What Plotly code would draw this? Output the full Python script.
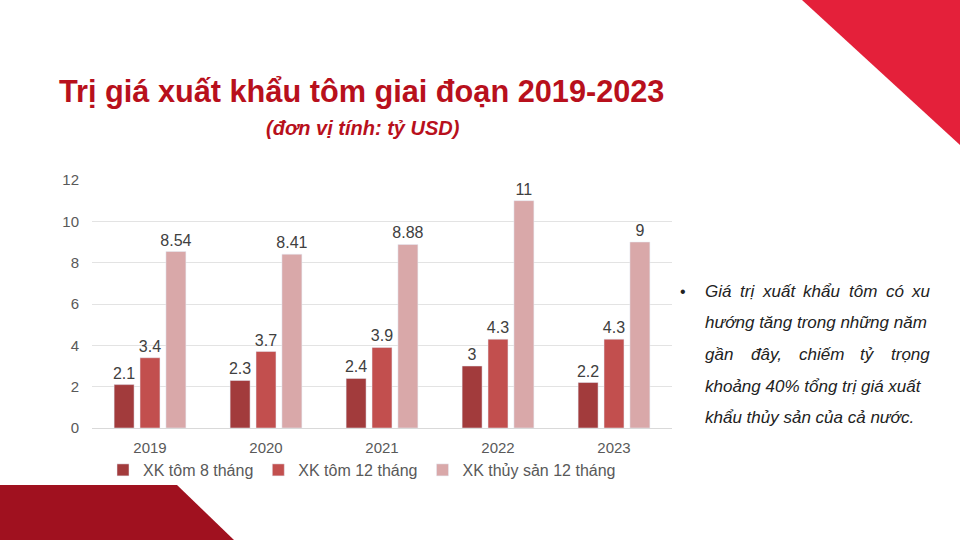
import plotly.graph_objects as go

years = ["2019", "2020", "2021", "2022", "2023"]
series_names = ["XK tôm 8 tháng", "XK tôm 12 tháng", "XK thủy sản 12 tháng"]
tom_8_thang = [2.1, 2.3, 2.4, 3, 2.2]
tom_12_thang = [3.4, 3.7, 3.9, 4.3, 4.3]
thuy_san_12_thang = [8.54, 8.41, 8.88, 11, 9]
y_ticks = [0, 2, 4, 6, 8, 10, 12]

title_text = "Trị giá xuất khẩu tôm giai đoạn 2019-2023"
subtitle_text = "(đơn vị tính: tỷ USD)"
note_lines = [
    "Giá trị xuất khẩu tôm có xu",
    "hướng tăng trong những năm",
    "gần đây, chiếm tỷ trọng",
    "khoảng 40% tổng trị giá xuất",
    "khẩu thủy sản của cả nước.",
]

colors = ["#A23B3C", "#C24F4E", "#D9A8A9"]
FONT = "Liberation Sans, Arial, sans-serif"

fig = go.Figure()
for name, vals, col in zip(series_names, [tom_8_thang, tom_12_thang, thuy_san_12_thang], colors):
    fig.add_trace(go.Bar(
        x=years, y=vals, name=name, marker_color=col,
        text=[f"{v:g}" for v in vals], textposition="outside",
        constraintext="none",
        textfont=dict(size=16, color="#404040", family=FONT),
        cliponaxis=False,
    ))

W, H = 960, 540
def px(x): return x / W
def py(y): return 1 - y / H

shapes = [
    dict(type="path", xref="paper", yref="paper",
         path=f"M {px(802)} {py(0)} L {px(960)} {py(0)} L {px(960)} {py(145)} Z",
         fillcolor="#E4203A", line=dict(width=0), layer="below"),
    dict(type="path", xref="paper", yref="paper",
         path=f"M {px(0)} {py(485)} L {px(177)} {py(485)} L {px(234)} {py(540)} L {px(0)} {py(540)} Z",
         fillcolor="#A0111F", line=dict(width=0), layer="below"),
]

annotations = [
    dict(text=f"<b>{title_text}</b>", x=px(361), y=py(91), xref="paper", yref="paper",
         showarrow=False, xanchor="center", yanchor="middle",
         font=dict(size=30.7, color="#B8101C", family=FONT)),
    dict(text=f"<b><i>{subtitle_text}</i></b>", x=px(363), y=py(128), xref="paper", yref="paper",
         showarrow=False, xanchor="center", yanchor="middle",
         font=dict(size=20, color="#B8101C", family=FONT)),
    dict(text="•", x=px(683), y=py(291), xref="paper", yref="paper",
         showarrow=False, xanchor="center", yanchor="middle",
         font=dict(size=16, color="#222222", family=FONT)),
]

NOTE_FONT = dict(size=17, color="#222222", family=FONT)
line_ys = [291, 322, 354, 386, 417]
# word centre positions for the two justified lines (text layout positions)
justified_x = {
    0: [718.3, 747.1, 778.8, 821.8, 862.9, 894.5, 921.0],
    2: [719.2, 766.3, 821.8, 867.8, 910.6],
}
for i, (t, yy) in enumerate(zip(note_lines, line_ys)):
    if i in justified_x:
        for w, xx in zip(t.split(" "), justified_x[i]):
            annotations.append(dict(text=f"<i>{w}</i>", x=px(xx), y=py(yy), xref="paper", yref="paper",
                                    showarrow=False, xanchor="center", yanchor="middle",
                                    font=NOTE_FONT))
    else:
        annotations.append(dict(text=f"<i>{t}</i>", x=px(705), y=py(yy), xref="paper", yref="paper",
                                showarrow=False, xanchor="left", yanchor="middle", xshift=-2,
                                font=NOTE_FONT))

fig.update_layout(
    width=W, height=H,
    margin=dict(l=0, r=0, t=0, b=0, pad=0, autoexpand=False),
    paper_bgcolor="white", plot_bgcolor="white",
    barmode="group", bargap=0.33, bargroupgap=0.23,
    font=dict(family=FONT),
    xaxis=dict(domain=[px(92), px(672)], showline=True, linecolor="#D9D9D9", linewidth=1,
               tickfont=dict(size=15, color="#595959"), ticks="", showgrid=False,
               ticklabelstandoff=6, automargin=False),
    yaxis=dict(domain=[py(428), py(180)], range=[0, 12], tickvals=y_ticks,
               showgrid=True, gridcolor="#E3E3E3", gridwidth=1, zeroline=False,
               tickfont=dict(size=15, color="#595959"), ticks="", ticklen=0,
               ticklabelstandoff=12, automargin=False),
    legend=dict(orientation="h", x=px(362), y=py(470), xanchor="center", yanchor="middle",
                font=dict(size=16, color="#595959"), traceorder="normal",
                itemwidth=30, bgcolor="rgba(0,0,0,0)"),
    shapes=shapes, annotations=annotations, showlegend=True,
)

fig.write_html(
    "out.html",
    config={"displayModeBar": False},
    post_script="document.body.style.margin='0';document.body.style.overflow='hidden';",
)
